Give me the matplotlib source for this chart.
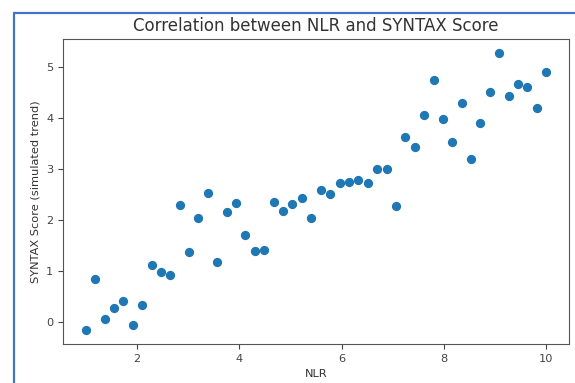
import matplotlib
matplotlib.use("Agg")
import matplotlib.pyplot as plt
from matplotlib.patches import Rectangle

# NLR values (x) and simulated SYNTAX score (y)
nlr = [1.00, 1.18, 1.37, 1.55, 1.73, 1.92, 2.10, 2.29, 2.47, 2.65,
       2.84, 3.02, 3.20, 3.39, 3.57, 3.76, 3.94, 4.12, 4.31, 4.49,
       4.67, 4.86, 5.04, 5.22, 5.41, 5.59, 5.78, 5.96, 6.14, 6.33,
       6.51, 6.69, 6.88, 7.06, 7.24, 7.43, 7.61, 7.80, 7.98, 8.16,
       8.35, 8.53, 8.71, 8.90, 9.08, 9.27, 9.45, 9.63, 9.82, 10.00]
syntax = [-0.16, 0.84, 0.05, 0.28, 0.41, -0.06, 0.33, 1.11, 0.98, 0.92,
          2.30, 1.37, 2.04, 2.53, 1.17, 2.16, 2.34, 1.70, 1.40, 1.41,
          2.35, 2.17, 2.32, 2.43, 2.04, 2.59, 2.51, 2.72, 2.75, 2.79,
          2.72, 3.00, 3.00, 2.28, 3.63, 3.43, 4.06, 4.74, 3.98, 3.54,
          4.29, 3.19, 3.91, 4.52, 5.28, 4.43, 4.66, 4.61, 4.20, 4.90]

fig = plt.figure(figsize=(5.75, 3.83), dpi=100)

# document frame around the figure (left and top edges visible)
fig.patches.append(Rectangle((14/575, -0.1), 1.2, 1 - 13/383 + 0.1,
                             transform=fig.transFigure, fill=False,
                             edgecolor="#4472C4", linewidth=1.6))

ax = fig.add_axes([63/575, 39/383, 506/575, 305/383])
ax.scatter(nlr, syntax, color="#1f77b4", s=32)
ax.set_title("Correlation between NLR and SYNTAX Score", fontsize=12, color="#333333")
ax.set_xlabel("NLR", fontsize=8.2, color="#333333")
ax.set_ylabel("SYNTAX Score (simulated trend)", fontsize=8.2, color="#333333")
ax.tick_params(labelsize=8.2, colors="#444444")
for s in ax.spines.values():
    s.set_color("#555555")

fig.savefig("out.png", dpi=100)
plt.close(fig)
